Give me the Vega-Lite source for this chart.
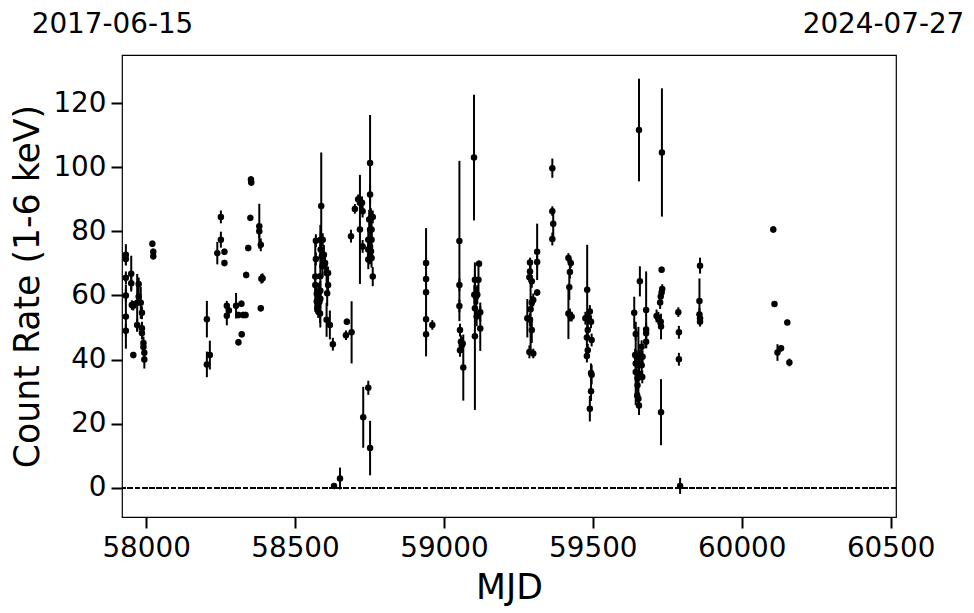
{
  "$schema": "https://vega.github.io/schema/vega-lite/v6.json",
  "width": 774,
  "height": 462,
  "autosize": {"type": "none"},
  "padding": {"left": 122, "top": 55, "right": 78, "bottom": 96},
  "background": "white",
  "config": {
    "font": "DejaVu Sans",
    "view": {"stroke": "black", "strokeWidth": 1.2},
    "axis": {
      "grid": false,
      "domain": false,
      "tickColor": "black",
      "tickWidth": 2,
      "tickSize": 11,
      "labelColor": "black",
      "labelFontSize": 27.8,
      "labelPadding": 5,
      "titleColor": "black",
      "titleFontSize": 34.7,
      "titleFontWeight": "normal"
    }
  },
  "data": {
    "values": [
      {"mjd": 57932, "rate": 72.7, "err": 3.3},
      {"mjd": 57932, "rate": 71.4, "err": 2},
      {"mjd": 57932, "rate": 65.5, "err": 2},
      {"mjd": 57932, "rate": 60.0, "err": 2},
      {"mjd": 57932, "rate": 53.4, "err": 10},
      {"mjd": 57932, "rate": 49.0, "err": 2},
      {"mjd": 57950, "rate": 66.8, "err": 5.6},
      {"mjd": 57950, "rate": 63.8, "err": 2},
      {"mjd": 57957, "rate": 41.4, "err": 1},
      {"mjd": 57957, "rate": 56.8, "err": 1.5},
      {"mjd": 57952, "rate": 57.0, "err": 1.5},
      {"mjd": 57970, "rate": 57.7, "err": 9},
      {"mjd": 57970, "rate": 50.8, "err": 2},
      {"mjd": 57975, "rate": 63.6, "err": 2},
      {"mjd": 57975, "rate": 59.7, "err": 2},
      {"mjd": 57982, "rate": 57.7, "err": 5},
      {"mjd": 57986, "rate": 54.6, "err": 2},
      {"mjd": 57986, "rate": 49.8, "err": 2},
      {"mjd": 57986, "rate": 48.3, "err": 2},
      {"mjd": 57991, "rate": 45.2, "err": 2},
      {"mjd": 57991, "rate": 43.9, "err": 2},
      {"mjd": 57994, "rate": 42.1, "err": 2},
      {"mjd": 57994, "rate": 40.0, "err": 2.8},
      {"mjd": 58021, "rate": 76.1, "err": 1},
      {"mjd": 58024, "rate": 73.6, "err": 1},
      {"mjd": 58024, "rate": 72.2, "err": 1},
      {"mjd": 58204, "rate": 52.6, "err": 5.7},
      {"mjd": 58204, "rate": 38.5, "err": 4},
      {"mjd": 58214, "rate": 41.4, "err": 4.5},
      {"mjd": 58251, "rate": 84.5, "err": 2},
      {"mjd": 58251, "rate": 77.4, "err": 2.5},
      {"mjd": 58239, "rate": 73.2, "err": 3.5},
      {"mjd": 58263, "rate": 73.6, "err": 1},
      {"mjd": 58263, "rate": 70.1, "err": 1},
      {"mjd": 58271, "rate": 56.8, "err": 1.5},
      {"mjd": 58271, "rate": 53.7, "err": 3},
      {"mjd": 58278, "rate": 55.3, "err": 1},
      {"mjd": 58302, "rate": 56.8, "err": 4},
      {"mjd": 58320, "rate": 57.4, "err": 1},
      {"mjd": 58310, "rate": 53.9, "err": 1},
      {"mjd": 58326, "rate": 53.9, "err": 1},
      {"mjd": 58334, "rate": 53.9, "err": 1},
      {"mjd": 58321, "rate": 47.9, "err": 1},
      {"mjd": 58310, "rate": 45.4, "err": 1},
      {"mjd": 58336, "rate": 66.4, "err": 1},
      {"mjd": 58343, "rate": 74.8, "err": 1},
      {"mjd": 58350, "rate": 84.2, "err": 1},
      {"mjd": 58352, "rate": 96.2, "err": 1},
      {"mjd": 58353, "rate": 95.2, "err": 1},
      {"mjd": 58380, "rate": 81.6, "err": 7},
      {"mjd": 58380, "rate": 80.0, "err": 2},
      {"mjd": 58385, "rate": 75.8, "err": 2},
      {"mjd": 58387, "rate": 65.2, "err": 1.5},
      {"mjd": 58391, "rate": 65.4, "err": 1.5},
      {"mjd": 58385, "rate": 56.0, "err": 1},
      {"mjd": 58588, "rate": 87.9, "err": 16.7},
      {"mjd": 58568, "rate": 65.9, "err": 11},
      {"mjd": 58570, "rate": 71.4, "err": 2},
      {"mjd": 58570, "rate": 77.1, "err": 2},
      {"mjd": 58568, "rate": 63.3, "err": 2},
      {"mjd": 58573, "rate": 60.5, "err": 2},
      {"mjd": 58573, "rate": 58.1, "err": 2},
      {"mjd": 58575, "rate": 56.0, "err": 2},
      {"mjd": 58578, "rate": 55.0, "err": 2},
      {"mjd": 58584, "rate": 54.4, "err": 3},
      {"mjd": 58586, "rate": 77.4, "err": 2},
      {"mjd": 58586, "rate": 74.3, "err": 3},
      {"mjd": 58585, "rate": 66.0, "err": 16},
      {"mjd": 58590, "rate": 72.2, "err": 3},
      {"mjd": 58592, "rate": 69.1, "err": 3},
      {"mjd": 58593, "rate": 77.4, "err": 2},
      {"mjd": 58597, "rate": 72.7, "err": 3},
      {"mjd": 58601, "rate": 70.1, "err": 3},
      {"mjd": 58606, "rate": 67.0, "err": 3},
      {"mjd": 58611, "rate": 67.0, "err": 2},
      {"mjd": 58611, "rate": 63.3, "err": 2},
      {"mjd": 58608, "rate": 60.7, "err": 4},
      {"mjd": 58585, "rate": 61.5, "err": 3},
      {"mjd": 58585, "rate": 59.0, "err": 3},
      {"mjd": 58582, "rate": 58.0, "err": 3},
      {"mjd": 58580, "rate": 61.0, "err": 3},
      {"mjd": 58606, "rate": 52.4, "err": 5.3},
      {"mjd": 58617, "rate": 50.8, "err": 4.5},
      {"mjd": 58627, "rate": 44.8, "err": 2},
      {"mjd": 58674, "rate": 51.8, "err": 1},
      {"mjd": 58671, "rate": 47.6, "err": 1.5},
      {"mjd": 58690, "rate": 48.5, "err": 9.7},
      {"mjd": 58688, "rate": 78.5, "err": 2},
      {"mjd": 58631, "rate": 0.6, "err": 0.5},
      {"mjd": 58651, "rate": 2.9, "err": 3.4},
      {"mjd": 58701, "rate": 87.0, "err": 1.5},
      {"mjd": 58712, "rate": 90.0, "err": 1.5},
      {"mjd": 58718, "rate": 80.6, "err": 17},
      {"mjd": 58718, "rate": 88.9, "err": 2},
      {"mjd": 58725, "rate": 88.9, "err": 2},
      {"mjd": 58727, "rate": 86.3, "err": 2},
      {"mjd": 58727, "rate": 75.3, "err": 2},
      {"mjd": 58752, "rate": 101.3, "err": 15},
      {"mjd": 58752, "rate": 91.5, "err": 3},
      {"mjd": 58755, "rate": 84.2, "err": 3},
      {"mjd": 58761, "rate": 84.5, "err": 2},
      {"mjd": 58749, "rate": 83.7, "err": 3},
      {"mjd": 58752, "rate": 80.6, "err": 3},
      {"mjd": 58757, "rate": 80.6, "err": 3},
      {"mjd": 58757, "rate": 77.4, "err": 3},
      {"mjd": 58746, "rate": 77.4, "err": 3},
      {"mjd": 58752, "rate": 75.3, "err": 3},
      {"mjd": 58746, "rate": 74.3, "err": 4},
      {"mjd": 58755, "rate": 73.8, "err": 3},
      {"mjd": 58757, "rate": 71.7, "err": 3},
      {"mjd": 58752, "rate": 72.7, "err": 3},
      {"mjd": 58761, "rate": 65.9, "err": 3},
      {"mjd": 58746, "rate": 71.2, "err": 3},
      {"mjd": 58746, "rate": 31.2, "err": 2.2},
      {"mjd": 58729, "rate": 22.0, "err": 9.5},
      {"mjd": 58752, "rate": 12.4, "err": 8.5},
      {"mjd": 58940, "rate": 70.1, "err": 2},
      {"mjd": 58940, "rate": 65.1, "err": 2},
      {"mjd": 58940, "rate": 61.0, "err": 20},
      {"mjd": 58940, "rate": 52.6, "err": 2},
      {"mjd": 58940, "rate": 47.9, "err": 2},
      {"mjd": 58961, "rate": 50.8, "err": 1.5},
      {"mjd": 59052, "rate": 77.0, "err": 25},
      {"mjd": 59052, "rate": 63.3, "err": 2},
      {"mjd": 59052, "rate": 56.7, "err": 2},
      {"mjd": 59054, "rate": 49.2, "err": 2},
      {"mjd": 59057, "rate": 45.6, "err": 2},
      {"mjd": 59060, "rate": 44.5, "err": 2},
      {"mjd": 59054, "rate": 42.9, "err": 2},
      {"mjd": 59063, "rate": 45.0, "err": 2},
      {"mjd": 59065, "rate": 37.5, "err": 10.3},
      {"mjd": 59101, "rate": 103.0, "err": 19.6},
      {"mjd": 59104, "rate": 64.9, "err": 3},
      {"mjd": 59118, "rate": 69.9, "err": 1},
      {"mjd": 59116, "rate": 64.9, "err": 4},
      {"mjd": 59102, "rate": 60.2, "err": 3},
      {"mjd": 59108, "rate": 59.7, "err": 3},
      {"mjd": 59112, "rate": 60.2, "err": 3},
      {"mjd": 59104, "rate": 56.0, "err": 3},
      {"mjd": 59110, "rate": 53.4, "err": 3},
      {"mjd": 59104, "rate": 47.3, "err": 23},
      {"mjd": 59122, "rate": 54.8, "err": 3},
      {"mjd": 59122, "rate": 49.7, "err": 7},
      {"mjd": 59289, "rate": 70.3, "err": 1.5},
      {"mjd": 59289, "rate": 67.5, "err": 1.5},
      {"mjd": 59287, "rate": 65.7, "err": 1.5},
      {"mjd": 59295, "rate": 64.4, "err": 2},
      {"mjd": 59313, "rate": 73.6, "err": 8.8},
      {"mjd": 59313, "rate": 70.4, "err": 2},
      {"mjd": 59313, "rate": 60.9, "err": 1},
      {"mjd": 59300, "rate": 58.6, "err": 2},
      {"mjd": 59295, "rate": 57.8, "err": 2},
      {"mjd": 59291, "rate": 55.7, "err": 14},
      {"mjd": 59280, "rate": 52.9, "err": 6},
      {"mjd": 59289, "rate": 52.4, "err": 2},
      {"mjd": 59295, "rate": 49.2, "err": 4},
      {"mjd": 59287, "rate": 42.4, "err": 2},
      {"mjd": 59300, "rate": 41.9, "err": 1.5},
      {"mjd": 59364, "rate": 99.7, "err": 3},
      {"mjd": 59364, "rate": 86.3, "err": 1.5},
      {"mjd": 59367, "rate": 82.4, "err": 4},
      {"mjd": 59364, "rate": 77.6, "err": 2},
      {"mjd": 59418, "rate": 71.7, "err": 1.5},
      {"mjd": 59426, "rate": 70.1, "err": 1.5},
      {"mjd": 59423, "rate": 67.3, "err": 2},
      {"mjd": 59421, "rate": 62.6, "err": 4},
      {"mjd": 59418, "rate": 54.4, "err": 8},
      {"mjd": 59423, "rate": 53.9, "err": 2},
      {"mjd": 59429, "rate": 53.4, "err": 1.5},
      {"mjd": 59481, "rate": 61.8, "err": 14},
      {"mjd": 59490, "rate": 55.0, "err": 2},
      {"mjd": 59483, "rate": 53.2, "err": 2},
      {"mjd": 59475, "rate": 52.9, "err": 2},
      {"mjd": 59494, "rate": 51.8, "err": 2},
      {"mjd": 59483, "rate": 49.2, "err": 2},
      {"mjd": 59480, "rate": 46.9, "err": 3},
      {"mjd": 59496, "rate": 46.1, "err": 2},
      {"mjd": 59483, "rate": 42.9, "err": 2},
      {"mjd": 59480, "rate": 41.1, "err": 2},
      {"mjd": 59494, "rate": 35.8, "err": 3},
      {"mjd": 59496, "rate": 35.3, "err": 3},
      {"mjd": 59494, "rate": 30.1, "err": 3},
      {"mjd": 59490, "rate": 24.7, "err": 4},
      {"mjd": 59658, "rate": 64.4, "err": 4.7},
      {"mjd": 59639, "rate": 54.6, "err": 5},
      {"mjd": 59679, "rate": 55.5, "err": 12},
      {"mjd": 59644, "rate": 48.0, "err": 2},
      {"mjd": 59644, "rate": 38.8, "err": 13},
      {"mjd": 59679, "rate": 49.4, "err": 2},
      {"mjd": 59679, "rate": 48.2, "err": 2},
      {"mjd": 59679, "rate": 45.6, "err": 2},
      {"mjd": 59664, "rate": 44.0, "err": 2},
      {"mjd": 59642, "rate": 41.4, "err": 2},
      {"mjd": 59647, "rate": 40.9, "err": 2},
      {"mjd": 59658, "rate": 41.1, "err": 2},
      {"mjd": 59667, "rate": 40.9, "err": 2},
      {"mjd": 59653, "rate": 38.2, "err": 12},
      {"mjd": 59664, "rate": 38.2, "err": 2},
      {"mjd": 59644, "rate": 36.1, "err": 2},
      {"mjd": 59655, "rate": 35.6, "err": 2},
      {"mjd": 59666, "rate": 34.6, "err": 2},
      {"mjd": 59650, "rate": 34.1, "err": 2},
      {"mjd": 59650, "rate": 32.0, "err": 2},
      {"mjd": 59649, "rate": 28.8, "err": 2},
      {"mjd": 59653, "rate": 27.8, "err": 2},
      {"mjd": 59655, "rate": 25.7, "err": 3},
      {"mjd": 59731, "rate": 68.0, "err": 1},
      {"mjd": 59733, "rate": 62.0, "err": 1.5},
      {"mjd": 59731, "rate": 60.9, "err": 1.5},
      {"mjd": 59728, "rate": 59.7, "err": 2},
      {"mjd": 59726, "rate": 57.8, "err": 2},
      {"mjd": 59714, "rate": 53.6, "err": 2},
      {"mjd": 59720, "rate": 52.9, "err": 2},
      {"mjd": 59728, "rate": 51.8, "err": 2},
      {"mjd": 59729, "rate": 50.3, "err": 4},
      {"mjd": 59729, "rate": 23.6, "err": 10.3},
      {"mjd": 59655, "rate": 111.6, "err": 16},
      {"mjd": 59732, "rate": 104.6, "err": 20},
      {"mjd": 59787, "rate": 54.8, "err": 1.5},
      {"mjd": 59789, "rate": 48.5, "err": 2},
      {"mjd": 59789, "rate": 40.1, "err": 2},
      {"mjd": 59793, "rate": 0.6, "err": 2.5},
      {"mjd": 59860, "rate": 69.3, "err": 2.5},
      {"mjd": 59858, "rate": 58.3, "err": 7},
      {"mjd": 59858, "rate": 54.1, "err": 2},
      {"mjd": 59860, "rate": 52.9, "err": 1.5},
      {"mjd": 59860, "rate": 51.8, "err": 1.5},
      {"mjd": 60106, "rate": 80.6, "err": 1},
      {"mjd": 60110, "rate": 57.3, "err": 0.8},
      {"mjd": 60153, "rate": 51.6, "err": 0.8},
      {"mjd": 60120, "rate": 42.2, "err": 2.6},
      {"mjd": 60132, "rate": 43.5, "err": 1},
      {"mjd": 60160, "rate": 39.1, "err": 1.2}
    ]
  },
  "resolve": {"axis": {"x": "independent"}},
  "layer": [
    {
      "mark": {"type": "rule", "color": "black", "strokeWidth": 1.3, "strokeDash": [5, 2.2]},
      "encoding": {
        "y": {"datum": 0, "type": "quantitative", "scale": {"domain": [-9.1, 135], "nice": false, "zero": false}, "axis": {"title": "Count Rate (1-6 keV)", "values": [0, 20, 40, 60, 80, 100, 120], "titlePadding": 7}}
      }
    },
    {
      "mark": {"type": "errorbar", "color": "black", "thickness": 2},
      "encoding": {
        "x": {"field": "mjd", "type": "quantitative", "scale": {"domain": [57919, 60518], "nice": false, "zero": false},
              "axis": {"orient": "top", "values": [57919, 60518], "tickSize": 0, "labelPadding": 17, "labelFlush": false,
                       "labelExpr": "datum.value < 59000 ? '2017-06-15' : '2024-07-27'",
                       "labelOffset": {"condition": {"test": "datum.value < 59000", "value": -10}, "value": -13},
                       "title": null}},
        "y": {"field": "rate", "type": "quantitative", "title": "Count Rate (1-6 keV)"},
        "yError": {"field": "err"}
      }
    },
    {
      "mark": {"type": "circle", "color": "black", "opacity": 1, "size": 42},
      "encoding": {
        "x": {"field": "mjd", "type": "quantitative", "axis": {"orient": "bottom", "values": [58000, 58500, 59000, 59500, 60000, 60500], "title": "MJD", "titlePadding": 10, "labelPadding": 6, "format": "d"}},
        "y": {"field": "rate", "type": "quantitative", "title": "Count Rate (1-6 keV)"}
      }
    }
  ]
}
